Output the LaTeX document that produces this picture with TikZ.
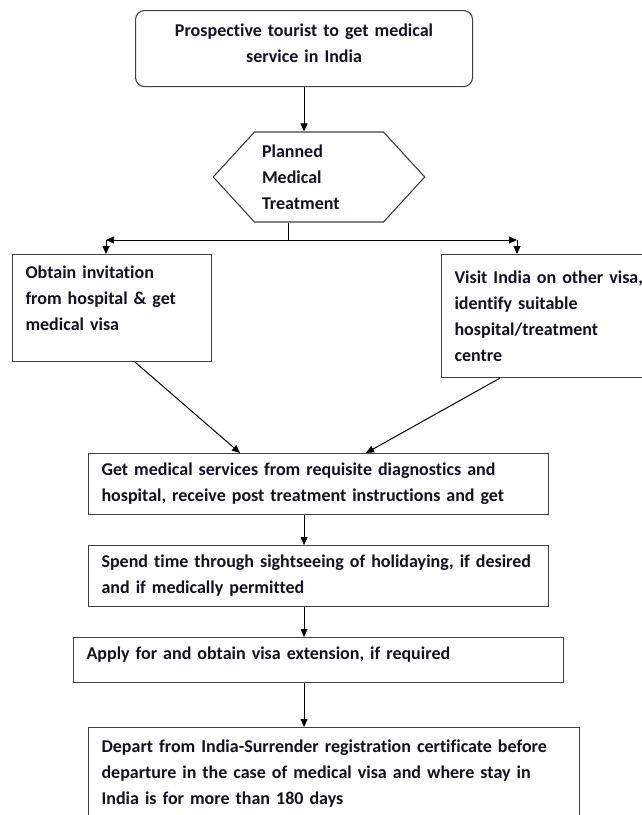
\documentclass[tikz,border=0pt]{standalone}
\usepackage{fontspec}
\setmainfont{Carlito}[Ligatures=NoCommon]
\usetikzlibrary{
    arrows.meta,
    positioning,
    shapes.symbols
}
\definecolor{ink}{RGB}{18,18,32}
\tikzset{%
    >={Triangle[width=7pt,length=8pt]},
    % Specifications for style of nodes:
    base/.style = {
        rectangle, draw=black!75, line width=1.1pt,
        font=\fontsize{18}{26}\selectfont\bfseries, text=ink,
        inner xsep=13pt, fill=white, anchor=north west
    },
    start/.style = {base, rounded corners=9pt, align=center},
    stepbox/.style = {base, align=left},
    choice/.style = {base, signal, signal to=west and east,
        signal pointer angle=95, inner xsep=7.5pt, anchor=center, align=left},
    link/.style = {draw=black, line width=1pt}
}

\begin{document}
\begin{tikzpicture}[x=1pt, y=-1pt]
    \useasboundingbox (0,0) rectangle (642,815);
    \node[start, minimum width=337, minimum height=76, text width=311, text depth=37pt] (tourist) at (135,10)
        {Prospective tourist to get medical\\service in India};
    \node[choice, minimum height=90, text width=114] (planned) at (319,177)
        {Planned\\Medical\\Treatment};
    \node[stepbox, minimum width=199, minimum height=107, text width=173, text depth=71pt] (invite) at (12,254)
        {Obtain invitation\\from hospital \& get\\medical visa};
    \node[stepbox, minimum width=226, minimum height=123, text width=200] (othervisa) at (441,254)
        {Visit India on other visa,\\identify suitable\\hospital/treatment\\centre};
    \node[stepbox, minimum width=460, minimum height=61, text width=434] (services) at (88,453)
        {Get medical services from requisite diagnostics and\\hospital, receive post treatment instructions and get};
    \node[stepbox, minimum width=460, minimum height=61, text width=434] (sightsee) at (88,545)
        {Spend time through sightseeing of holidaying, if desired\\and if medically permitted};
    \node[stepbox, minimum width=490, minimum height=45, text width=464, text depth=13pt] (extend) at (73,637)
        {Apply for and obtain visa extension, if required};
    \node[stepbox, minimum width=491, minimum height=92, text width=465] (depart) at (88,727)
        {Depart from India-Surrender registration certificate before\\departure in the case of medical visa and where stay in\\India is for more than 180 days};

    % split below the decision
    \coordinate (split) at (288,240);
    \coordinate (lturn) at (106,240);
    \coordinate (rturn) at (517,240);

    \draw[link, ->] (tourist.south) -- (tourist.south |- planned.north);
    \draw[link] (split |- planned.south) -- (split);
    \draw[link, ->] (split) -- (lturn);
    \draw[link, ->] (split) -- (rturn);
    \draw[link, ->] (lturn) -- (lturn |- invite.north);
    \draw[link, ->] (rturn) -- (rturn |- othervisa.north);
    \draw[link, ->] ([xshift=123pt]invite.south west) -- ([xshift=152pt]services.north west);
    \draw[link, ->] ([xshift=59pt]othervisa.south west) -- ([xshift=278pt]services.north west);
    \draw[link, ->] (tourist.south |- services.south) -- (tourist.south |- sightsee.north);
    \draw[link, ->] (tourist.south |- sightsee.south) -- (tourist.south |- extend.north);
    \draw[link, ->] (tourist.south |- extend.south) -- (tourist.south |- depart.north);
\end{tikzpicture}
\end{document}
